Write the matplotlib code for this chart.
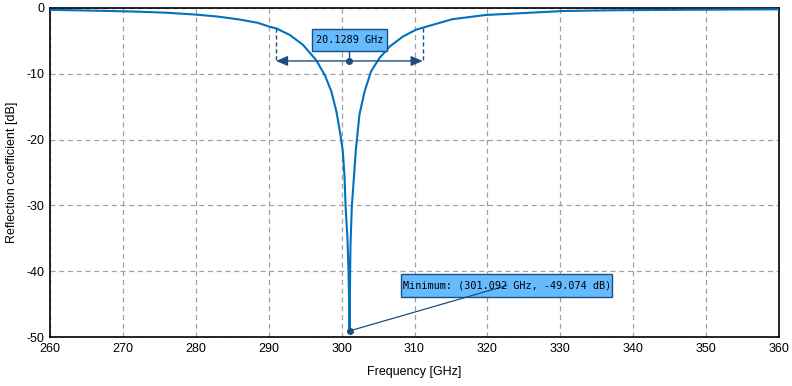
import numpy as np
import matplotlib
matplotlib.use('Agg')
import matplotlib.pyplot as plt
from matplotlib.patches import Rectangle

plt.rcParams['font.family'] = ['Liberation Sans', 'DejaVu Sans']
plt.rcParams['axes.unicode_minus'] = False

# curve (GHz, dB)
freq = [260, 264, 268, 272, 276, 280, 283, 286, 288.5, 290.1, 291.05, 292.9,
        294.7, 296.5, 297.7, 298.6, 299.3, 299.85, 300.15, 300.4, 300.55,
        300.8, 300.95, 301.05, 301.092, 301.13, 301.17, 301.22, 301.4, 301.7,
        301.95, 302.45, 303.15, 304.05, 305.2, 306.6, 308.4, 310.2, 312.05,
        315.2, 319.8, 326.2, 330.3, 336.7, 343, 350.8, 360]
refl = [-0.28, -0.36, -0.45, -0.55, -0.72, -1.0, -1.3, -1.75, -2.25, -2.84,
        -3.1, -4.1, -5.6, -7.9, -10.2, -12.7, -15.8, -19.3, -21.6, -25.6,
        -30.2, -35.0, -40.0, -46.0, -49.074, -45.0, -40.0, -36.0, -30.2,
        -25.6, -21.6, -16.2, -12.7, -9.6, -7.6, -5.85, -4.35, -3.3, -2.7,
        -1.7, -1.06, -0.7, -0.46, -0.35, -0.3, -0.25, -0.2]

f_min, s_min = 301.092, -49.074
bw_lo, bw = 291.0, 20.1289
bw_level = -8.05

xticks = list(range(260, 361, 10))
yticks = list(range(-50, 1, 10))

curve_col = '#0070c0'
ann_col = '#1b4f80'
box_col = '#66bbff'

fig = plt.figure(figsize=(7.92, 3.86), dpi=100)
ax = fig.add_axes([50/792, 49/386, 729/792, 329/386])

ax.plot(freq, refl, color=curve_col, linewidth=1.5, zorder=3)

ax.set_xlim(260, 360)
ax.set_ylim(-50, 0)
ax.set_xticks(xticks)
ax.set_yticks(yticks)
ax.grid(True, color='#a0a0a0', linestyle=(0, (4, 3)), linewidth=0.9)
ax.tick_params(length=0, labelsize=9, pad=4)
for sp in ax.spines.values():
    sp.set_linewidth(1.2)
    sp.set_color('black')

ax.set_xlabel('Frequency [GHz]', fontsize=9, labelpad=8)
ax.set_ylabel('Reflection coefficient [dB]', fontsize=9, labelpad=6)

# bandwidth marker
bw_hi = bw_lo + bw
bw_mid = (bw_lo + bw_hi) / 2
ax.plot([bw_lo, bw_lo], [-3.0, bw_level], color=ann_col, linestyle=(0, (3, 2)),
        linewidth=1, zorder=4)
ax.plot([bw_hi, bw_hi], [-3.0, bw_level], color=ann_col, linestyle=(0, (3, 2)),
        linewidth=1, zorder=4)
ax.annotate('', xy=(bw_lo, bw_level), xytext=(bw_hi, bw_level),
            arrowprops=dict(arrowstyle='<|-|>,head_length=0.7,head_width=0.3',
                            color=ann_col, lw=1, shrinkA=0, shrinkB=0),
            zorder=4)
ax.plot([bw_mid, bw_mid], [bw_level, -6.5], color=ann_col, linewidth=1, zorder=4)
ax.plot(bw_mid, bw_level, 'o', color=ann_col, markersize=4, zorder=5)
ax.add_patch(Rectangle((295.9, -6.5), 10.3, 3.3, facecolor=box_col,
                       edgecolor=ann_col, linewidth=1, zorder=6))
ax.text(301.05, -4.85, '%.4f GHz' % bw, family='DejaVu Sans Mono', fontsize=7.3,
        ha='center', va='center', zorder=7)

# minimum marker
bx, by = 322.65, -42.17
label = 'Minimum: (%.3f GHz, %.3f dB)' % (f_min, s_min)
ax.add_patch(Rectangle((308.17, -43.87), 28.99, 3.4, facecolor=box_col,
                       edgecolor=ann_col, linewidth=1, zorder=6))
ax.plot([f_min, bx], [s_min, by], color=ann_col, linewidth=0.9, zorder=7)
ax.text(bx, by, label, family='DejaVu Sans Mono', fontsize=7.3, ha='center',
        va='center', zorder=8)
ax.plot(f_min, s_min, 'o', color=ann_col, markersize=4, zorder=8)

fig.savefig('out.png', dpi=100)
